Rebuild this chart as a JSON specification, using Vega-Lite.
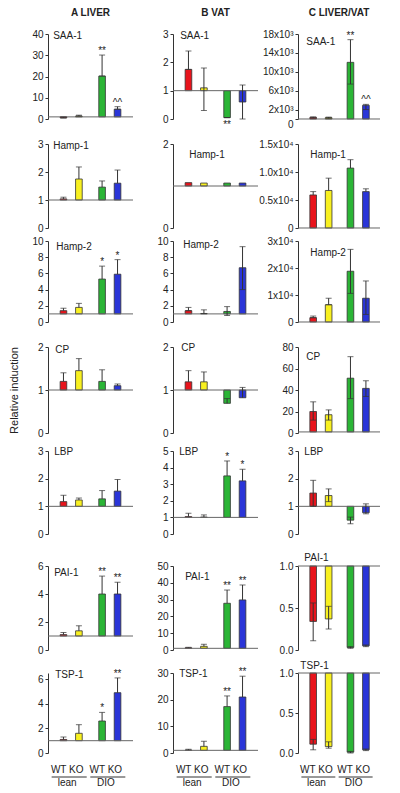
{
"$schema":"https://vega.github.io/schema/vega-lite/v6.json",
"padding":{"left":8,"top":8,"right":6,"bottom":2},
"config":{
 "view":{"stroke":null},
 "font":"Liberation Sans",
 "axis":{"labelFont":"Liberation Sans","labelFontSize":10,"labelColor":"#222","domainColor":"#333","tickColor":"#333","tickSize":3,"labelPadding":2,"labelOverlap":false,"labelSeparation":0,"grid":false,"titleFont":"Liberation Sans","titleFontSize":11,"titleFontWeight":"normal","titleColor":"#222"},
 "axisY":{"labelOverlap":false,"labelBound":false},
 "range":{"category":["#2a35d8","#f8f020","#2bb536","#e8141c"]},
 "scale":{"bandPaddingInner":0.04,"bandPaddingOuter":0,"offsetBandPaddingInner":0.57,"offsetBandPaddingOuter":0.285},
 "rule":{"color":"#333"},
 "tick":{"color":"#333"},
 "text":{"font":"Liberation Sans","fontSize":10,"color":"#222"},
 "title":{"font":"Liberation Sans","fontSize":10,"fontWeight":"bold","color":"#222","offset":11,"frame":"group","anchor":"middle"}
},
"data":{"values":[
{"p":"A1","g":"lean","t":"WT","c":"WT lean","v":0.5,"lo":0.5,"hi":0.9,"s":""},
{"p":"A1","g":"lean","t":"KO","c":"KO lean","v":1.4,"lo":1.4,"hi":1.8,"s":""},
{"p":"A1","g":"DIO","t":"WT","c":"WT DIO","v":20.2,"lo":20.2,"hi":30.1,"s":"**"},
{"p":"A1","g":"DIO","t":"KO","c":"KO DIO","v":4.6,"lo":4.6,"hi":5.8,"s":"^^"},
{"p":"A2","g":"lean","t":"WT","c":"WT lean","v":1.04,"lo":1.04,"hi":1.1,"s":""},
{"p":"A2","g":"lean","t":"KO","c":"KO lean","v":1.75,"lo":1.75,"hi":2.18,"s":""},
{"p":"A2","g":"DIO","t":"WT","c":"WT DIO","v":1.46,"lo":1.46,"hi":1.68,"s":""},
{"p":"A2","g":"DIO","t":"KO","c":"KO DIO","v":1.6,"lo":1.6,"hi":2.07,"s":""},
{"p":"A3","g":"lean","t":"WT","c":"WT lean","v":1.4,"lo":1.4,"hi":1.7,"s":""},
{"p":"A3","g":"lean","t":"KO","c":"KO lean","v":1.8,"lo":1.8,"hi":2.3,"s":""},
{"p":"A3","g":"DIO","t":"WT","c":"WT DIO","v":5.3,"lo":5.3,"hi":6.9,"s":"*"},
{"p":"A3","g":"DIO","t":"KO","c":"KO DIO","v":5.9,"lo":5.9,"hi":7.7,"s":"*"},
{"p":"A4","g":"lean","t":"WT","c":"WT lean","v":1.2,"lo":1.2,"hi":1.4,"s":""},
{"p":"A4","g":"lean","t":"KO","c":"KO lean","v":1.45,"lo":1.45,"hi":1.73,"s":""},
{"p":"A4","g":"DIO","t":"WT","c":"WT DIO","v":1.2,"lo":1.2,"hi":1.47,"s":""},
{"p":"A4","g":"DIO","t":"KO","c":"KO DIO","v":1.1,"lo":1.1,"hi":1.14,"s":""},
{"p":"A5","g":"lean","t":"WT","c":"WT lean","v":1.17,"lo":1.17,"hi":1.4,"s":""},
{"p":"A5","g":"lean","t":"KO","c":"KO lean","v":1.23,"lo":1.23,"hi":1.3,"s":""},
{"p":"A5","g":"DIO","t":"WT","c":"WT DIO","v":1.27,"lo":1.27,"hi":1.57,"s":""},
{"p":"A5","g":"DIO","t":"KO","c":"KO DIO","v":1.55,"lo":1.55,"hi":1.97,"s":""},
{"p":"A6","g":"lean","t":"WT","c":"WT lean","v":1.1,"lo":1.1,"hi":1.25,"s":""},
{"p":"A6","g":"lean","t":"KO","c":"KO lean","v":1.37,"lo":1.37,"hi":1.73,"s":""},
{"p":"A6","g":"DIO","t":"WT","c":"WT DIO","v":4.0,"lo":4.0,"hi":5.28,"s":"**"},
{"p":"A6","g":"DIO","t":"KO","c":"KO DIO","v":4.0,"lo":4.0,"hi":4.84,"s":"**"},
{"p":"A7","g":"lean","t":"WT","c":"WT lean","v":1.1,"lo":1.1,"hi":1.3,"s":""},
{"p":"A7","g":"lean","t":"KO","c":"KO lean","v":1.6,"lo":1.6,"hi":2.3,"s":""},
{"p":"A7","g":"DIO","t":"WT","c":"WT DIO","v":2.6,"lo":2.6,"hi":3.3,"s":"*"},
{"p":"A7","g":"DIO","t":"KO","c":"KO DIO","v":4.9,"lo":4.9,"hi":6.1,"s":"**"},
{"p":"B1","g":"lean","t":"WT","c":"WT lean","v":1.75,"lo":1.75,"hi":2.4,"s":""},
{"p":"B1","g":"lean","t":"KO","c":"KO lean","v":1.1,"lo":0.3,"hi":1.8,"s":""},
{"p":"B1","g":"DIO","t":"WT","c":"WT DIO","v":0.05,"lo":0.05,"hi":0.05,"s":"","sb":"**"},
{"p":"B1","g":"DIO","t":"KO","c":"KO DIO","v":0.6,"lo":0.0,"hi":1.2,"s":""},
{"p":"B2","g":"lean","t":"WT","c":"WT lean","v":1.08,"lo":1.08,"hi":1.08,"s":""},
{"p":"B2","g":"lean","t":"KO","c":"KO lean","v":1.07,"lo":1.07,"hi":1.07,"s":""},
{"p":"B2","g":"DIO","t":"WT","c":"WT DIO","v":1.07,"lo":1.07,"hi":1.07,"s":""},
{"p":"B2","g":"DIO","t":"KO","c":"KO DIO","v":1.07,"lo":1.07,"hi":1.07,"s":""},
{"p":"B3","g":"lean","t":"WT","c":"WT lean","v":1.4,"lo":1.4,"hi":1.8,"s":""},
{"p":"B3","g":"lean","t":"KO","c":"KO lean","v":1.05,"lo":1.05,"hi":1.5,"s":""},
{"p":"B3","g":"DIO","t":"WT","c":"WT DIO","v":1.3,"lo":0.8,"hi":1.9,"s":""},
{"p":"B3","g":"DIO","t":"KO","c":"KO DIO","v":6.7,"lo":4.0,"hi":9.3,"s":""},
{"p":"B4","g":"lean","t":"WT","c":"WT lean","v":1.19,"lo":1.19,"hi":1.45,"s":""},
{"p":"B4","g":"lean","t":"KO","c":"KO lean","v":1.19,"lo":1.19,"hi":1.42,"s":""},
{"p":"B4","g":"DIO","t":"WT","c":"WT DIO","v":0.69,"lo":0.69,"hi":0.8,"s":""},
{"p":"B4","g":"DIO","t":"KO","c":"KO DIO","v":0.82,"lo":0.82,"hi":1.06,"s":""},
{"p":"B5","g":"lean","t":"WT","c":"WT lean","v":1.05,"lo":1.05,"hi":1.25,"s":""},
{"p":"B5","g":"lean","t":"KO","c":"KO lean","v":1.02,"lo":1.02,"hi":1.15,"s":""},
{"p":"B5","g":"DIO","t":"WT","c":"WT DIO","v":3.5,"lo":3.5,"hi":4.4,"s":"*"},
{"p":"B5","g":"DIO","t":"KO","c":"KO DIO","v":3.2,"lo":3.2,"hi":3.9,"s":"*"},
{"p":"B6","g":"lean","t":"WT","c":"WT lean","v":1.3,"lo":1.3,"hi":1.6,"s":""},
{"p":"B6","g":"lean","t":"KO","c":"KO lean","v":2.2,"lo":2.2,"hi":3.4,"s":""},
{"p":"B6","g":"DIO","t":"WT","c":"WT DIO","v":27.8,"lo":27.8,"hi":35.7,"s":"**"},
{"p":"B6","g":"DIO","t":"KO","c":"KO DIO","v":29.8,"lo":29.8,"hi":38.7,"s":"**"},
{"p":"B7","g":"lean","t":"WT","c":"WT lean","v":1.1,"lo":1.1,"hi":1.4,"s":""},
{"p":"B7","g":"lean","t":"KO","c":"KO lean","v":2.5,"lo":2.5,"hi":4.4,"s":""},
{"p":"B7","g":"DIO","t":"WT","c":"WT DIO","v":17.4,"lo":17.4,"hi":21.4,"s":"**"},
{"p":"B7","g":"DIO","t":"KO","c":"KO DIO","v":21,"lo":21,"hi":28.8,"s":"**"},
{"p":"C1","g":"lean","t":"WT","c":"WT lean","v":350,"lo":200,"hi":450,"s":""},
{"p":"C1","g":"lean","t":"KO","c":"KO lean","v":300,"lo":150,"hi":400,"s":""},
{"p":"C1","g":"DIO","t":"WT","c":"WT DIO","v":12000,"lo":7400,"hi":16800,"s":"**"},
{"p":"C1","g":"DIO","t":"KO","c":"KO DIO","v":2900,"lo":2000,"hi":3100,"s":"^^"},
{"p":"C2","g":"lean","t":"WT","c":"WT lean","v":5900,"lo":5900,"hi":6500,"s":""},
{"p":"C2","g":"lean","t":"KO","c":"KO lean","v":6700,"lo":6700,"hi":8900,"s":""},
{"p":"C2","g":"DIO","t":"WT","c":"WT DIO","v":10700,"lo":10700,"hi":12200,"s":""},
{"p":"C2","g":"DIO","t":"KO","c":"KO DIO","v":6500,"lo":6500,"hi":7000,"s":""},
{"p":"C3","g":"lean","t":"WT","c":"WT lean","v":1600,"lo":1600,"hi":2200,"s":""},
{"p":"C3","g":"lean","t":"KO","c":"KO lean","v":6400,"lo":6400,"hi":8800,"s":""},
{"p":"C3","g":"DIO","t":"WT","c":"WT DIO","v":18800,"lo":10600,"hi":26900,"s":""},
{"p":"C3","g":"DIO","t":"KO","c":"KO DIO","v":8800,"lo":2800,"hi":15200,"s":""},
{"p":"C4","g":"lean","t":"WT","c":"WT lean","v":20,"lo":12,"hi":29,"s":""},
{"p":"C4","g":"lean","t":"KO","c":"KO lean","v":17,"lo":12,"hi":21.5,"s":""},
{"p":"C4","g":"DIO","t":"WT","c":"WT DIO","v":51,"lo":32,"hi":71,"s":""},
{"p":"C4","g":"DIO","t":"KO","c":"KO DIO","v":41.5,"lo":34,"hi":48.6,"s":""},
{"p":"C5","g":"lean","t":"WT","c":"WT lean","v":1.48,"lo":1.0,"hi":1.94,"s":""},
{"p":"C5","g":"lean","t":"KO","c":"KO lean","v":1.39,"lo":1.17,"hi":1.63,"s":""},
{"p":"C5","g":"DIO","t":"WT","c":"WT DIO","v":0.5,"lo":0.37,"hi":0.61,"s":""},
{"p":"C5","g":"DIO","t":"KO","c":"KO DIO","v":0.77,"lo":0.73,"hi":1.09,"s":""},
{"p":"C6","g":"lean","t":"WT","c":"WT lean","v":0.34,"lo":0.11,"hi":0.56,"s":""},
{"p":"C6","g":"lean","t":"KO","c":"KO lean","v":0.37,"lo":0.25,"hi":0.52,"s":""},
{"p":"C6","g":"DIO","t":"WT","c":"WT DIO","v":0.03,"lo":0.02,"hi":0.04,"s":""},
{"p":"C6","g":"DIO","t":"KO","c":"KO DIO","v":0.05,"lo":0.04,"hi":0.06,"s":""},
{"p":"C7","g":"lean","t":"WT","c":"WT lean","v":0.11,"lo":0.04,"hi":0.17,"s":""},
{"p":"C7","g":"lean","t":"KO","c":"KO lean","v":0.08,"lo":0.06,"hi":0.14,"s":""},
{"p":"C7","g":"DIO","t":"WT","c":"WT DIO","v":0.01,"lo":0.0,"hi":0.02,"s":""},
{"p":"C7","g":"DIO","t":"KO","c":"KO DIO","v":0.04,"lo":0.03,"hi":0.05,"s":""}
]},
"columns":3,
"spacing":{"row":13,"column":40},
"bounds":"flush",
"align":"each",
"concat":[
{"width":85,"height":85,"title":"A LIVER","transform":[{"filter":"datum.p=='A1'"}],"layer":[
{"mark":{"type":"bar","stroke":"#333","strokeWidth":0.8},"encoding":{"x":{"field":"g","type":"nominal","scale":{"domain":["lean","DIO"]},"axis":null},"xOffset":{"field":"t","type":"nominal","scale":{"domain":["WT","KO"]}},"y":{"field":"v","type":"quantitative","scale":{"domain":[0,40],"nice":false},"axis":{"values":[0,10,20,30,40],"format":"d","labelOverlap":false,"tickCount":20,"title":null}},"y2":{"datum":1},"color":{"field":"c","type":"nominal","legend":null}}},
{"data":{"values":[{"p":"A1"}]},"mark":{"type":"rule","color":"#666"},"encoding":{"y":{"datum":1}}},
{"mark":"rule","encoding":{"x":{"field":"g","type":"nominal","title":null},"xOffset":{"field":"t","type":"nominal"},"y":{"field":"lo","type":"quantitative","title":null},"y2":{"field":"hi"}}},
{"mark":{"type":"tick","size":6,"thickness":1},"encoding":{"x":{"field":"g","type":"nominal","title":null},"xOffset":{"field":"t","type":"nominal"},"y":{"field":"hi","type":"quantitative","title":null}}},
{"mark":{"type":"tick","size":6,"thickness":1},"encoding":{"x":{"field":"g","type":"nominal","title":null},"xOffset":{"field":"t","type":"nominal"},"y":{"field":"lo","type":"quantitative","title":null}}},
{"mark":{"type":"text","baseline":"bottom","dy":1},"encoding":{"x":{"field":"g","type":"nominal","title":null},"xOffset":{"field":"t","type":"nominal"},"y":{"field":"hi","type":"quantitative","title":null},"text":{"field":"s"}}},
{"data":{"values":[{"p":"A1","n":"SAA-1"}]},"mark":{"type":"text","align":"left","baseline":"middle","dx":-18,"dy":2},"encoding":{"x":{"datum":"lean","type":"nominal"},"y":{"datum":40},"text":{"field":"n"}}}
]},
{"width":85,"height":85,"title":"B VAT","transform":[{"filter":"datum.p=='B1'"}],"layer":[
{"mark":{"type":"bar","stroke":"#333","strokeWidth":0.8},"encoding":{"x":{"field":"g","type":"nominal","scale":{"domain":["lean","DIO"]},"axis":null},"xOffset":{"field":"t","type":"nominal","scale":{"domain":["WT","KO"]}},"y":{"field":"v","type":"quantitative","scale":{"domain":[0,3],"nice":false},"axis":{"values":[0,1,2,3],"format":"d","labelOverlap":false,"tickCount":20,"title":null}},"y2":{"datum":1},"color":{"field":"c","type":"nominal","legend":null}}},
{"data":{"values":[{"p":"B1"}]},"mark":{"type":"rule","color":"#666"},"encoding":{"y":{"datum":1}}},
{"mark":"rule","encoding":{"x":{"field":"g","type":"nominal","title":null},"xOffset":{"field":"t","type":"nominal"},"y":{"field":"lo","type":"quantitative","title":null},"y2":{"field":"hi"}}},
{"mark":{"type":"tick","size":6,"thickness":1},"encoding":{"x":{"field":"g","type":"nominal","title":null},"xOffset":{"field":"t","type":"nominal"},"y":{"field":"hi","type":"quantitative","title":null}}},
{"mark":{"type":"tick","size":6,"thickness":1},"encoding":{"x":{"field":"g","type":"nominal","title":null},"xOffset":{"field":"t","type":"nominal"},"y":{"field":"lo","type":"quantitative","title":null}}},
{"mark":{"type":"text","baseline":"bottom","dy":1},"encoding":{"x":{"field":"g","type":"nominal","title":null},"xOffset":{"field":"t","type":"nominal"},"y":{"field":"hi","type":"quantitative","title":null},"text":{"field":"s"}}},
{"transform":[{"filter":"datum.sb"}],"mark":{"type":"text","baseline":"top","dy":2},"encoding":{"x":{"field":"g","type":"nominal","title":null},"xOffset":{"field":"t","type":"nominal"},"y":{"field":"lo","type":"quantitative","title":null},"text":{"field":"sb"}}},
{"data":{"values":[{"p":"B1","n":"SAA-1"}]},"mark":{"type":"text","align":"left","baseline":"middle","dx":-16,"dy":2},"encoding":{"x":{"datum":"lean","type":"nominal"},"y":{"datum":3},"text":{"field":"n"}}}
]},
{"width":82,"height":85,"title":"C LIVER/VAT","transform":[{"filter":"datum.p=='C1'"}],"layer":[
{"mark":{"type":"bar","stroke":"#333","strokeWidth":0.8},"encoding":{"x":{"field":"g","type":"nominal","scale":{"domain":["lean","DIO"]},"axis":null},"xOffset":{"field":"t","type":"nominal","scale":{"domain":["WT","KO"]}},"y":{"field":"v","type":"quantitative","scale":{"domain":[0,18000],"nice":false},"axis":{"values":[0,2000,6000,10000,14000,18000],"labelOverlap":false,"tickCount":20,"title":null,"labelBaseline":{"condition":{"test":"datum.value == 0","value":"top"},"value":"middle"},"labelExpr":"datum.value == 0 ? '0' : (datum.value / 1000) + 'x10³'"}},"y2":{"datum":1},"color":{"field":"c","type":"nominal","legend":null}}},
{"data":{"values":[{"p":"C1"}]},"mark":{"type":"rule","color":"#666"},"encoding":{"y":{"datum":1}}},
{"mark":"rule","encoding":{"x":{"field":"g","type":"nominal","title":null},"xOffset":{"field":"t","type":"nominal"},"y":{"field":"lo","type":"quantitative","title":null},"y2":{"field":"hi"}}},
{"mark":{"type":"tick","size":6,"thickness":1},"encoding":{"x":{"field":"g","type":"nominal","title":null},"xOffset":{"field":"t","type":"nominal"},"y":{"field":"hi","type":"quantitative","title":null}}},
{"mark":{"type":"tick","size":6,"thickness":1},"encoding":{"x":{"field":"g","type":"nominal","title":null},"xOffset":{"field":"t","type":"nominal"},"y":{"field":"lo","type":"quantitative","title":null}}},
{"mark":{"type":"text","baseline":"bottom","dy":1},"encoding":{"x":{"field":"g","type":"nominal","title":null},"xOffset":{"field":"t","type":"nominal"},"y":{"field":"hi","type":"quantitative","title":null},"text":{"field":"s"}}},
{"data":{"values":[{"p":"C1","n":"SAA-1"}]},"mark":{"type":"text","align":"left","baseline":"middle","dx":-14,"dy":8},"encoding":{"x":{"datum":"lean","type":"nominal"},"y":{"datum":18000},"text":{"field":"n"}}}
]},
{"width":85,"height":96,"transform":[{"filter":"datum.p=='A2'"}],"layer":[
{"mark":{"type":"bar","stroke":"#333","strokeWidth":0.8},"encoding":{"x":{"field":"g","type":"nominal","scale":{"domain":["lean","DIO"]},"axis":null},"xOffset":{"field":"t","type":"nominal","scale":{"domain":["WT","KO"]}},"y":{"field":"v","type":"quantitative","scale":{"domain":[0,3],"nice":false,"range":[96,12]},"axis":{"values":[0,1,2,3],"format":"d","labelOverlap":false,"tickCount":20,"title":null}},"y2":{"datum":1},"color":{"field":"c","type":"nominal","legend":null}}},
{"data":{"values":[{"p":"A2"}]},"mark":{"type":"rule","color":"#666"},"encoding":{"y":{"datum":1}}},
{"mark":"rule","encoding":{"x":{"field":"g","type":"nominal","title":null},"xOffset":{"field":"t","type":"nominal"},"y":{"field":"lo","type":"quantitative","title":null},"y2":{"field":"hi"}}},
{"mark":{"type":"tick","size":6,"thickness":1},"encoding":{"x":{"field":"g","type":"nominal","title":null},"xOffset":{"field":"t","type":"nominal"},"y":{"field":"hi","type":"quantitative","title":null}}},
{"data":{"values":[{"p":"A2","n":"Hamp-1"}]},"mark":{"type":"text","align":"left","baseline":"middle","dx":-18,"dy":2},"encoding":{"x":{"datum":"lean","type":"nominal"},"y":{"datum":3},"text":{"field":"n"}}}
]},
{"width":85,"height":96,"transform":[{"filter":"datum.p=='B2'"}],"layer":[
{"mark":{"type":"bar","stroke":"#333","strokeWidth":0.8},"encoding":{"x":{"field":"g","type":"nominal","scale":{"domain":["lean","DIO"]},"axis":null},"xOffset":{"field":"t","type":"nominal","scale":{"domain":["WT","KO"]}},"y":{"field":"v","type":"quantitative","scale":{"domain":[0,2],"nice":false,"range":[96,12]},"axis":{"values":[0,1,2],"format":"d","labelOverlap":false,"tickCount":20,"title":null}},"y2":{"datum":1},"color":{"field":"c","type":"nominal","legend":null}}},
{"data":{"values":[{"p":"B2"}]},"mark":{"type":"rule","color":"#666"},"encoding":{"y":{"datum":1}}},
{"data":{"values":[{"p":"B2","n":"Hamp-1"}]},"mark":{"type":"text","align":"left","baseline":"middle","dx":-7,"dy":11},"encoding":{"x":{"datum":"lean","type":"nominal"},"y":{"datum":2},"text":{"field":"n"}}}
]},
{"width":82,"height":96,"transform":[{"filter":"datum.p=='C2'"}],"layer":[
{"mark":{"type":"bar","stroke":"#333","strokeWidth":0.8},"encoding":{"x":{"field":"g","type":"nominal","scale":{"domain":["lean","DIO"]},"axis":null},"xOffset":{"field":"t","type":"nominal","scale":{"domain":["WT","KO"]}},"y":{"field":"v","type":"quantitative","scale":{"domain":[0,15000],"nice":false,"range":[96,12]},"axis":{"values":[0,5000,10000,15000],"labelOverlap":false,"tickCount":20,"title":null,"labelExpr":"datum.value == 0 ? '0' : format(datum.value / 10000, '.1f') + 'x10⁴'"}},"y2":{"datum":1},"color":{"field":"c","type":"nominal","legend":null}}},
{"data":{"values":[{"p":"C2"}]},"mark":{"type":"rule","color":"#666"},"encoding":{"y":{"datum":1}}},
{"mark":"rule","encoding":{"x":{"field":"g","type":"nominal","title":null},"xOffset":{"field":"t","type":"nominal"},"y":{"field":"lo","type":"quantitative","title":null},"y2":{"field":"hi"}}},
{"mark":{"type":"tick","size":6,"thickness":1},"encoding":{"x":{"field":"g","type":"nominal","title":null},"xOffset":{"field":"t","type":"nominal"},"y":{"field":"hi","type":"quantitative","title":null}}},
{"data":{"values":[{"p":"C2","n":"Hamp-1"}]},"mark":{"type":"text","align":"left","baseline":"middle","dx":-10,"dy":11},"encoding":{"x":{"datum":"lean","type":"nominal"},"y":{"datum":15000},"text":{"field":"n"}}}
]},
{"width":85,"height":81,"transform":[{"filter":"datum.p=='A3'"}],"layer":[
{"mark":{"type":"bar","stroke":"#333","strokeWidth":0.8},"encoding":{"x":{"field":"g","type":"nominal","scale":{"domain":["lean","DIO"]},"axis":null},"xOffset":{"field":"t","type":"nominal","scale":{"domain":["WT","KO"]}},"y":{"field":"v","type":"quantitative","scale":{"domain":[0,10],"nice":false},"axis":{"values":[0,2,4,6,8,10],"format":"d","labelOverlap":false,"tickCount":20,"title":null}},"y2":{"datum":1},"color":{"field":"c","type":"nominal","legend":null}}},
{"data":{"values":[{"p":"A3"}]},"mark":{"type":"rule","color":"#666"},"encoding":{"y":{"datum":1}}},
{"mark":"rule","encoding":{"x":{"field":"g","type":"nominal","title":null},"xOffset":{"field":"t","type":"nominal"},"y":{"field":"lo","type":"quantitative","title":null},"y2":{"field":"hi"}}},
{"mark":{"type":"tick","size":6,"thickness":1},"encoding":{"x":{"field":"g","type":"nominal","title":null},"xOffset":{"field":"t","type":"nominal"},"y":{"field":"hi","type":"quantitative","title":null}}},
{"mark":{"type":"text","baseline":"bottom","dy":1},"encoding":{"x":{"field":"g","type":"nominal","title":null},"xOffset":{"field":"t","type":"nominal"},"y":{"field":"hi","type":"quantitative","title":null},"text":{"field":"s"}}},
{"data":{"values":[{"p":"A3","n":"Hamp-2"}]},"mark":{"type":"text","align":"left","baseline":"middle","dx":-15,"dy":6},"encoding":{"x":{"datum":"lean","type":"nominal"},"y":{"datum":10},"text":{"field":"n"}}}
]},
{"width":85,"height":81,"transform":[{"filter":"datum.p=='B3'"}],"layer":[
{"mark":{"type":"bar","stroke":"#333","strokeWidth":0.8},"encoding":{"x":{"field":"g","type":"nominal","scale":{"domain":["lean","DIO"]},"axis":null},"xOffset":{"field":"t","type":"nominal","scale":{"domain":["WT","KO"]}},"y":{"field":"v","type":"quantitative","scale":{"domain":[0,10],"nice":false},"axis":{"values":[0,2,4,6,8,10],"format":"d","labelOverlap":false,"tickCount":20,"title":null}},"y2":{"datum":1},"color":{"field":"c","type":"nominal","legend":null}}},
{"data":{"values":[{"p":"B3"}]},"mark":{"type":"rule","color":"#666"},"encoding":{"y":{"datum":1}}},
{"mark":"rule","encoding":{"x":{"field":"g","type":"nominal","title":null},"xOffset":{"field":"t","type":"nominal"},"y":{"field":"lo","type":"quantitative","title":null},"y2":{"field":"hi"}}},
{"mark":{"type":"tick","size":6,"thickness":1},"encoding":{"x":{"field":"g","type":"nominal","title":null},"xOffset":{"field":"t","type":"nominal"},"y":{"field":"hi","type":"quantitative","title":null}}},
{"mark":{"type":"tick","size":6,"thickness":1},"encoding":{"x":{"field":"g","type":"nominal","title":null},"xOffset":{"field":"t","type":"nominal"},"y":{"field":"lo","type":"quantitative","title":null}}},
{"data":{"values":[{"p":"B3","n":"Hamp-2"}]},"mark":{"type":"text","align":"left","baseline":"middle","dx":-13,"dy":4},"encoding":{"x":{"datum":"lean","type":"nominal"},"y":{"datum":10},"text":{"field":"n"}}}
]},
{"width":82,"height":81,"transform":[{"filter":"datum.p=='C3'"}],"layer":[
{"mark":{"type":"bar","stroke":"#333","strokeWidth":0.8},"encoding":{"x":{"field":"g","type":"nominal","scale":{"domain":["lean","DIO"]},"axis":null},"xOffset":{"field":"t","type":"nominal","scale":{"domain":["WT","KO"]}},"y":{"field":"v","type":"quantitative","scale":{"domain":[0,30000],"nice":false},"axis":{"values":[0,10000,20000,30000],"labelOverlap":false,"tickCount":20,"title":null,"labelExpr":"datum.value == 0 ? '0' : (datum.value / 10000) + 'x10⁴'"}},"y2":{"datum":1},"color":{"field":"c","type":"nominal","legend":null}}},
{"data":{"values":[{"p":"C3"}]},"mark":{"type":"rule","color":"#666"},"encoding":{"y":{"datum":1}}},
{"mark":"rule","encoding":{"x":{"field":"g","type":"nominal","title":null},"xOffset":{"field":"t","type":"nominal"},"y":{"field":"lo","type":"quantitative","title":null},"y2":{"field":"hi"}}},
{"mark":{"type":"tick","size":6,"thickness":1},"encoding":{"x":{"field":"g","type":"nominal","title":null},"xOffset":{"field":"t","type":"nominal"},"y":{"field":"hi","type":"quantitative","title":null}}},
{"mark":{"type":"tick","size":6,"thickness":1},"encoding":{"x":{"field":"g","type":"nominal","title":null},"xOffset":{"field":"t","type":"nominal"},"y":{"field":"lo","type":"quantitative","title":null}}},
{"data":{"values":[{"p":"C3","n":"Hamp-2"}]},"mark":{"type":"text","align":"left","baseline":"middle","dx":-10,"dy":12},"encoding":{"x":{"datum":"lean","type":"nominal"},"y":{"datum":30000},"text":{"field":"n"}}}
]},
{"width":85,"height":98,"transform":[{"filter":"datum.p=='A4'"}],"layer":[
{"mark":{"type":"bar","stroke":"#333","strokeWidth":0.8},"encoding":{"x":{"field":"g","type":"nominal","scale":{"domain":["lean","DIO"]},"axis":null},"xOffset":{"field":"t","type":"nominal","scale":{"domain":["WT","KO"]}},"y":{"field":"v","type":"quantitative","scale":{"domain":[0,2],"nice":false,"range":[98,12]},"axis":{"values":[0,1,2],"labelExpr":"datum.value + ''","labelOverlap":false,"labelSeparation":-50,"tickCount":20,"title":"Relative induction","titlePadding":18}},"y2":{"datum":1},"color":{"field":"c","type":"nominal","legend":null}}},
{"data":{"values":[{"p":"A4"}]},"mark":{"type":"rule","color":"#666"},"encoding":{"y":{"datum":1}}},
{"mark":"rule","encoding":{"x":{"field":"g","type":"nominal","title":null},"xOffset":{"field":"t","type":"nominal"},"y":{"field":"lo","type":"quantitative"},"y2":{"field":"hi"}}},
{"mark":{"type":"tick","size":6,"thickness":1},"encoding":{"x":{"field":"g","type":"nominal","title":null},"xOffset":{"field":"t","type":"nominal"},"y":{"field":"hi","type":"quantitative"}}},
{"data":{"values":[{"p":"A4","n":"CP"}]},"mark":{"type":"text","align":"left","baseline":"middle","dx":-16,"dy":3},"encoding":{"x":{"datum":"lean","type":"nominal"},"y":{"datum":2},"text":{"field":"n"}}}
]},
{"width":85,"height":98,"transform":[{"filter":"datum.p=='B4'"}],"layer":[
{"mark":{"type":"bar","stroke":"#333","strokeWidth":0.8},"encoding":{"x":{"field":"g","type":"nominal","scale":{"domain":["lean","DIO"]},"axis":null},"xOffset":{"field":"t","type":"nominal","scale":{"domain":["WT","KO"]}},"y":{"field":"v","type":"quantitative","scale":{"domain":[0,2],"nice":false,"range":[98,12]},"axis":{"values":[0,1,2],"labelExpr":"datum.value + ''","labelOverlap":false,"labelSeparation":-50,"tickCount":20,"title":null}},"y2":{"datum":1},"color":{"field":"c","type":"nominal","legend":null}}},
{"data":{"values":[{"p":"B4"}]},"mark":{"type":"rule","color":"#666"},"encoding":{"y":{"datum":1}}},
{"mark":"rule","encoding":{"x":{"field":"g","type":"nominal","title":null},"xOffset":{"field":"t","type":"nominal"},"y":{"field":"lo","type":"quantitative","title":null},"y2":{"field":"hi"}}},
{"mark":{"type":"tick","size":6,"thickness":1},"encoding":{"x":{"field":"g","type":"nominal","title":null},"xOffset":{"field":"t","type":"nominal"},"y":{"field":"hi","type":"quantitative","title":null}}},
{"data":{"values":[{"p":"B4","n":"CP"}]},"mark":{"type":"text","align":"left","baseline":"middle","dx":-15,"dy":1},"encoding":{"x":{"datum":"lean","type":"nominal"},"y":{"datum":2},"text":{"field":"n"}}}
]},
{"width":82,"height":98,"transform":[{"filter":"datum.p=='C4'"}],"layer":[
{"mark":{"type":"bar","stroke":"#333","strokeWidth":0.8},"encoding":{"x":{"field":"g","type":"nominal","scale":{"domain":["lean","DIO"]},"axis":null},"xOffset":{"field":"t","type":"nominal","scale":{"domain":["WT","KO"]}},"y":{"field":"v","type":"quantitative","scale":{"domain":[0,80],"nice":false,"range":[98,12]},"axis":{"values":[0,20,40,60,80],"format":"d","labelOverlap":false,"tickCount":20,"title":null}},"y2":{"datum":1},"color":{"field":"c","type":"nominal","legend":null}}},
{"data":{"values":[{"p":"C4"}]},"mark":{"type":"rule","color":"#666"},"encoding":{"y":{"datum":1}}},
{"mark":"rule","encoding":{"x":{"field":"g","type":"nominal","title":null},"xOffset":{"field":"t","type":"nominal"},"y":{"field":"lo","type":"quantitative","title":null},"y2":{"field":"hi"}}},
{"mark":{"type":"tick","size":6,"thickness":1},"encoding":{"x":{"field":"g","type":"nominal","title":null},"xOffset":{"field":"t","type":"nominal"},"y":{"field":"hi","type":"quantitative","title":null}}},
{"mark":{"type":"tick","size":6,"thickness":1},"encoding":{"x":{"field":"g","type":"nominal","title":null},"xOffset":{"field":"t","type":"nominal"},"y":{"field":"lo","type":"quantitative","title":null}}},
{"data":{"values":[{"p":"C4","n":"CP"}]},"mark":{"type":"text","align":"left","baseline":"middle","dx":-14,"dy":10},"encoding":{"x":{"datum":"lean","type":"nominal"},"y":{"datum":80},"text":{"field":"n"}}}
]},
{"width":85,"height":88,"transform":[{"filter":"datum.p=='A5'"}],"layer":[
{"mark":{"type":"bar","stroke":"#333","strokeWidth":0.8},"encoding":{"x":{"field":"g","type":"nominal","scale":{"domain":["lean","DIO"]},"axis":null},"xOffset":{"field":"t","type":"nominal","scale":{"domain":["WT","KO"]}},"y":{"field":"v","type":"quantitative","scale":{"domain":[0,3],"nice":false,"range":[88,5]},"axis":{"values":[0,1,2,3],"format":"d","labelOverlap":false,"tickCount":20,"title":null}},"y2":{"datum":1},"color":{"field":"c","type":"nominal","legend":null}}},
{"data":{"values":[{"p":"A5"}]},"mark":{"type":"rule","color":"#666"},"encoding":{"y":{"datum":1}}},
{"mark":"rule","encoding":{"x":{"field":"g","type":"nominal","title":null},"xOffset":{"field":"t","type":"nominal"},"y":{"field":"lo","type":"quantitative","title":null},"y2":{"field":"hi"}}},
{"mark":{"type":"tick","size":6,"thickness":1},"encoding":{"x":{"field":"g","type":"nominal","title":null},"xOffset":{"field":"t","type":"nominal"},"y":{"field":"hi","type":"quantitative","title":null}}},
{"data":{"values":[{"p":"A5","n":"LBP"}]},"mark":{"type":"text","align":"left","baseline":"middle","dx":-17,"dy":1},"encoding":{"x":{"datum":"lean","type":"nominal"},"y":{"datum":3},"text":{"field":"n"}}}
]},
{"width":85,"height":88,"transform":[{"filter":"datum.p=='B5'"}],"layer":[
{"mark":{"type":"bar","stroke":"#333","strokeWidth":0.8},"encoding":{"x":{"field":"g","type":"nominal","scale":{"domain":["lean","DIO"]},"axis":null},"xOffset":{"field":"t","type":"nominal","scale":{"domain":["WT","KO"]}},"y":{"field":"v","type":"quantitative","scale":{"domain":[0,5],"nice":false,"range":[88,5]},"axis":{"values":[0,1,2,3,4,5],"format":"d","labelOverlap":false,"tickCount":20,"title":null}},"y2":{"datum":1},"color":{"field":"c","type":"nominal","legend":null}}},
{"data":{"values":[{"p":"B5"}]},"mark":{"type":"rule","color":"#666"},"encoding":{"y":{"datum":1}}},
{"mark":"rule","encoding":{"x":{"field":"g","type":"nominal","title":null},"xOffset":{"field":"t","type":"nominal"},"y":{"field":"lo","type":"quantitative","title":null},"y2":{"field":"hi"}}},
{"mark":{"type":"tick","size":6,"thickness":1},"encoding":{"x":{"field":"g","type":"nominal","title":null},"xOffset":{"field":"t","type":"nominal"},"y":{"field":"hi","type":"quantitative","title":null}}},
{"mark":{"type":"text","baseline":"bottom","dy":1},"encoding":{"x":{"field":"g","type":"nominal","title":null},"xOffset":{"field":"t","type":"nominal"},"y":{"field":"hi","type":"quantitative","title":null},"text":{"field":"s"}}},
{"data":{"values":[{"p":"B5","n":"LBP"}]},"mark":{"type":"text","align":"left","baseline":"middle","dx":-17,"dy":1},"encoding":{"x":{"datum":"lean","type":"nominal"},"y":{"datum":5},"text":{"field":"n"}}}
]},
{"width":82,"height":88,"transform":[{"filter":"datum.p=='C5'"}],"layer":[
{"mark":{"type":"bar","stroke":"#333","strokeWidth":0.8},"encoding":{"x":{"field":"g","type":"nominal","scale":{"domain":["lean","DIO"]},"axis":null},"xOffset":{"field":"t","type":"nominal","scale":{"domain":["WT","KO"]}},"y":{"field":"v","type":"quantitative","scale":{"domain":[0,3],"nice":false,"range":[88,5]},"axis":{"values":[0,1,2,3],"format":"d","labelOverlap":false,"tickCount":20,"title":null}},"y2":{"datum":1},"color":{"field":"c","type":"nominal","legend":null}}},
{"data":{"values":[{"p":"C5"}]},"mark":{"type":"rule","color":"#666"},"encoding":{"y":{"datum":1}}},
{"mark":"rule","encoding":{"x":{"field":"g","type":"nominal","title":null},"xOffset":{"field":"t","type":"nominal"},"y":{"field":"lo","type":"quantitative","title":null},"y2":{"field":"hi"}}},
{"mark":{"type":"tick","size":6,"thickness":1},"encoding":{"x":{"field":"g","type":"nominal","title":null},"xOffset":{"field":"t","type":"nominal"},"y":{"field":"hi","type":"quantitative","title":null}}},
{"mark":{"type":"tick","size":6,"thickness":1},"encoding":{"x":{"field":"g","type":"nominal","title":null},"xOffset":{"field":"t","type":"nominal"},"y":{"field":"lo","type":"quantitative","title":null}}},
{"data":{"values":[{"p":"C5","n":"LBP"}]},"mark":{"type":"text","align":"left","baseline":"middle","dx":-16,"dy":1},"encoding":{"x":{"datum":"lean","type":"nominal"},"y":{"datum":3},"text":{"field":"n"}}}
]},
{"width":85,"height":103,"transform":[{"filter":"datum.p=='A6'"}],"layer":[
{"mark":{"type":"bar","stroke":"#333","strokeWidth":0.8},"encoding":{"x":{"field":"g","type":"nominal","scale":{"domain":["lean","DIO"]},"axis":null},"xOffset":{"field":"t","type":"nominal","scale":{"domain":["WT","KO"]}},"y":{"field":"v","type":"quantitative","scale":{"domain":[0,6],"nice":false,"range":[103,19]},"axis":{"values":[0,2,4,6],"format":"d","labelOverlap":false,"tickCount":20,"title":null}},"y2":{"datum":1},"color":{"field":"c","type":"nominal","legend":null}}},
{"data":{"values":[{"p":"A6"}]},"mark":{"type":"rule","color":"#666"},"encoding":{"y":{"datum":1}}},
{"mark":"rule","encoding":{"x":{"field":"g","type":"nominal","title":null},"xOffset":{"field":"t","type":"nominal"},"y":{"field":"lo","type":"quantitative","title":null},"y2":{"field":"hi"}}},
{"mark":{"type":"tick","size":6,"thickness":1},"encoding":{"x":{"field":"g","type":"nominal","title":null},"xOffset":{"field":"t","type":"nominal"},"y":{"field":"hi","type":"quantitative","title":null}}},
{"mark":{"type":"text","baseline":"bottom","dy":1},"encoding":{"x":{"field":"g","type":"nominal","title":null},"xOffset":{"field":"t","type":"nominal"},"y":{"field":"hi","type":"quantitative","title":null},"text":{"field":"s"}}},
{"data":{"values":[{"p":"A6","n":"PAI-1"}]},"mark":{"type":"text","align":"left","baseline":"middle","dx":-17,"dy":7},"encoding":{"x":{"datum":"lean","type":"nominal"},"y":{"datum":6},"text":{"field":"n"}}}
]},
{"width":85,"height":103,"transform":[{"filter":"datum.p=='B6'"}],"layer":[
{"mark":{"type":"bar","stroke":"#333","strokeWidth":0.8},"encoding":{"x":{"field":"g","type":"nominal","scale":{"domain":["lean","DIO"]},"axis":null},"xOffset":{"field":"t","type":"nominal","scale":{"domain":["WT","KO"]}},"y":{"field":"v","type":"quantitative","scale":{"domain":[0,50],"nice":false,"range":[103,19]},"axis":{"values":[0,10,20,30,40,50],"format":"d","labelOverlap":false,"tickCount":20,"title":null}},"y2":{"datum":1},"color":{"field":"c","type":"nominal","legend":null}}},
{"data":{"values":[{"p":"B6"}]},"mark":{"type":"rule","color":"#666"},"encoding":{"y":{"datum":1}}},
{"mark":"rule","encoding":{"x":{"field":"g","type":"nominal","title":null},"xOffset":{"field":"t","type":"nominal"},"y":{"field":"lo","type":"quantitative","title":null},"y2":{"field":"hi"}}},
{"mark":{"type":"tick","size":6,"thickness":1},"encoding":{"x":{"field":"g","type":"nominal","title":null},"xOffset":{"field":"t","type":"nominal"},"y":{"field":"hi","type":"quantitative","title":null}}},
{"mark":{"type":"text","baseline":"bottom","dy":1},"encoding":{"x":{"field":"g","type":"nominal","title":null},"xOffset":{"field":"t","type":"nominal"},"y":{"field":"hi","type":"quantitative","title":null},"text":{"field":"s"}}},
{"data":{"values":[{"p":"B6","n":"PAI-1"}]},"mark":{"type":"text","align":"left","baseline":"middle","dx":-11,"dy":11},"encoding":{"x":{"datum":"lean","type":"nominal"},"y":{"datum":50},"text":{"field":"n"}}}
]},
{"width":82,"height":103,"transform":[{"filter":"datum.p=='C6'"}],"layer":[
{"mark":{"type":"bar","stroke":"#333","strokeWidth":0.8},"encoding":{"x":{"field":"g","type":"nominal","scale":{"domain":["lean","DIO"]},"axis":null},"xOffset":{"field":"t","type":"nominal","scale":{"domain":["WT","KO"]}},"y":{"field":"v","type":"quantitative","scale":{"domain":[0,1],"nice":false,"range":[103,19]},"axis":{"values":[0,0.5,1],"format":".1f","labelOverlap":false,"tickCount":20,"title":null}},"y2":{"datum":1},"color":{"field":"c","type":"nominal","legend":null}}},
{"data":{"values":[{"p":"C6"}]},"mark":{"type":"rule","color":"#666"},"encoding":{"y":{"datum":1}}},
{"mark":"rule","encoding":{"x":{"field":"g","type":"nominal","title":null},"xOffset":{"field":"t","type":"nominal"},"y":{"field":"lo","type":"quantitative","title":null},"y2":{"field":"hi"}}},
{"mark":{"type":"tick","size":6,"thickness":1},"encoding":{"x":{"field":"g","type":"nominal","title":null},"xOffset":{"field":"t","type":"nominal"},"y":{"field":"hi","type":"quantitative","title":null}}},
{"mark":{"type":"tick","size":6,"thickness":1},"encoding":{"x":{"field":"g","type":"nominal","title":null},"xOffset":{"field":"t","type":"nominal"},"y":{"field":"lo","type":"quantitative","title":null}}},
{"data":{"values":[{"p":"C6","n":"PAI-1"}]},"mark":{"type":"text","align":"left","baseline":"middle","dx":-16,"dy":-8},"encoding":{"x":{"datum":"lean","type":"nominal"},"y":{"datum":1},"text":{"field":"n"}}}
]},
{"width":85,"height":90,"transform":[{"filter":"datum.p=='A7'"}],"layer":[
{"mark":{"type":"bar","stroke":"#333","strokeWidth":0.8},"encoding":{"x":{"field":"g","type":"nominal","scale":{"domain":["lean","DIO"]},"axis":{"title":null,"domain":false,"ticks":false,"labelAngle":0,"labelPadding":11,"labelLineHeight":13,"labelFontSize":10,"labelOffset":-4,"labelExpr":"['WT KO', datum.label]"}},"xOffset":{"field":"t","type":"nominal","scale":{"domain":["WT","KO"]}},"y":{"field":"v","type":"quantitative","scale":{"domain":[0,6.5],"nice":false,"range":[90,10]},"axis":{"values":[0,2,4,6],"format":"d","labelOverlap":false,"tickCount":20,"title":null}},"y2":{"datum":1},"color":{"field":"c","type":"nominal","legend":null}}},
{"data":{"values":[{"p":"A7"}]},"mark":{"type":"rule","color":"#666"},"encoding":{"y":{"datum":1}}},
{"mark":"rule","encoding":{"x":{"field":"g","type":"nominal","title":null},"xOffset":{"field":"t","type":"nominal"},"y":{"field":"lo","type":"quantitative","title":null},"y2":{"field":"hi"}}},
{"mark":{"type":"tick","size":6,"thickness":1},"encoding":{"x":{"field":"g","type":"nominal","title":null},"xOffset":{"field":"t","type":"nominal"},"y":{"field":"hi","type":"quantitative","title":null}}},
{"mark":{"type":"text","baseline":"bottom","dy":1},"encoding":{"x":{"field":"g","type":"nominal","title":null},"xOffset":{"field":"t","type":"nominal"},"y":{"field":"hi","type":"quantitative","title":null},"text":{"field":"s"}}},
{"mark":{"type":"rule","color":"#777","yOffset":24,"xOffset":-4},"encoding":{"x":{"field":"g","type":"nominal","bandPosition":0,"title":null},"x2":{"field":"g","bandPosition":1},"y":{"datum":0}}},
{"data":{"values":[{"p":"A7","n":"TSP-1"}]},"mark":{"type":"text","align":"left","baseline":"middle","dx":-16,"dy":2},"encoding":{"x":{"datum":"lean","type":"nominal"},"y":{"datum":6.5},"text":{"field":"n"}}}
]},
{"width":85,"height":90,"transform":[{"filter":"datum.p=='B7'"}],"layer":[
{"mark":{"type":"bar","stroke":"#333","strokeWidth":0.8},"encoding":{"x":{"field":"g","type":"nominal","scale":{"domain":["lean","DIO"]},"axis":{"title":null,"domain":false,"ticks":false,"labelAngle":0,"labelPadding":11,"labelLineHeight":13,"labelFontSize":10,"labelOffset":-4,"labelExpr":"['WT KO', datum.label]"}},"xOffset":{"field":"t","type":"nominal","scale":{"domain":["WT","KO"]}},"y":{"field":"v","type":"quantitative","scale":{"domain":[0,30],"nice":false,"range":[90,10]},"axis":{"values":[0,10,20,30],"format":"d","labelOverlap":false,"tickCount":20,"title":null}},"y2":{"datum":1},"color":{"field":"c","type":"nominal","legend":null}}},
{"data":{"values":[{"p":"B7"}]},"mark":{"type":"rule","color":"#666"},"encoding":{"y":{"datum":1}}},
{"mark":"rule","encoding":{"x":{"field":"g","type":"nominal","title":null},"xOffset":{"field":"t","type":"nominal"},"y":{"field":"lo","type":"quantitative","title":null},"y2":{"field":"hi"}}},
{"mark":{"type":"tick","size":6,"thickness":1},"encoding":{"x":{"field":"g","type":"nominal","title":null},"xOffset":{"field":"t","type":"nominal"},"y":{"field":"hi","type":"quantitative","title":null}}},
{"mark":{"type":"text","baseline":"bottom","dy":1},"encoding":{"x":{"field":"g","type":"nominal","title":null},"xOffset":{"field":"t","type":"nominal"},"y":{"field":"hi","type":"quantitative","title":null},"text":{"field":"s"}}},
{"mark":{"type":"rule","color":"#777","yOffset":24,"xOffset":-4},"encoding":{"x":{"field":"g","type":"nominal","bandPosition":0,"title":null},"x2":{"field":"g","bandPosition":1},"y":{"datum":0}}},
{"data":{"values":[{"p":"B7","n":"TSP-1"}]},"mark":{"type":"text","align":"left","baseline":"middle","dx":-17,"dy":1},"encoding":{"x":{"datum":"lean","type":"nominal"},"y":{"datum":30},"text":{"field":"n"}}}
]},
{"width":82,"height":90,"transform":[{"filter":"datum.p=='C7'"}],"layer":[
{"mark":{"type":"bar","stroke":"#333","strokeWidth":0.8},"encoding":{"x":{"field":"g","type":"nominal","scale":{"domain":["lean","DIO"]},"axis":{"title":null,"domain":false,"ticks":false,"labelAngle":0,"labelPadding":11,"labelLineHeight":13,"labelFontSize":10,"labelOffset":-4,"labelExpr":"['WT KO', datum.label]"}},"xOffset":{"field":"t","type":"nominal","scale":{"domain":["WT","KO"]}},"y":{"field":"v","type":"quantitative","scale":{"domain":[0,1],"nice":false,"range":[90,10]},"axis":{"values":[0,0.5,1],"format":".1f","labelOverlap":false,"tickCount":20,"title":null}},"y2":{"datum":1},"color":{"field":"c","type":"nominal","legend":null}}},
{"data":{"values":[{"p":"C7"}]},"mark":{"type":"rule","color":"#666"},"encoding":{"y":{"datum":1}}},
{"mark":"rule","encoding":{"x":{"field":"g","type":"nominal","title":null},"xOffset":{"field":"t","type":"nominal"},"y":{"field":"lo","type":"quantitative","title":null},"y2":{"field":"hi"}}},
{"mark":{"type":"tick","size":6,"thickness":1},"encoding":{"x":{"field":"g","type":"nominal","title":null},"xOffset":{"field":"t","type":"nominal"},"y":{"field":"hi","type":"quantitative","title":null}}},
{"mark":{"type":"tick","size":6,"thickness":1},"encoding":{"x":{"field":"g","type":"nominal","title":null},"xOffset":{"field":"t","type":"nominal"},"y":{"field":"lo","type":"quantitative","title":null}}},
{"mark":{"type":"rule","color":"#777","yOffset":24,"xOffset":-4},"encoding":{"x":{"field":"g","type":"nominal","bandPosition":0,"title":null},"x2":{"field":"g","bandPosition":1},"y":{"datum":0}}},
{"data":{"values":[{"p":"C7","n":"TSP-1"}]},"mark":{"type":"text","align":"left","baseline":"middle","dx":-20,"dy":-7},"encoding":{"x":{"datum":"lean","type":"nominal"},"y":{"datum":1},"text":{"field":"n"}}}
]}
]
}
